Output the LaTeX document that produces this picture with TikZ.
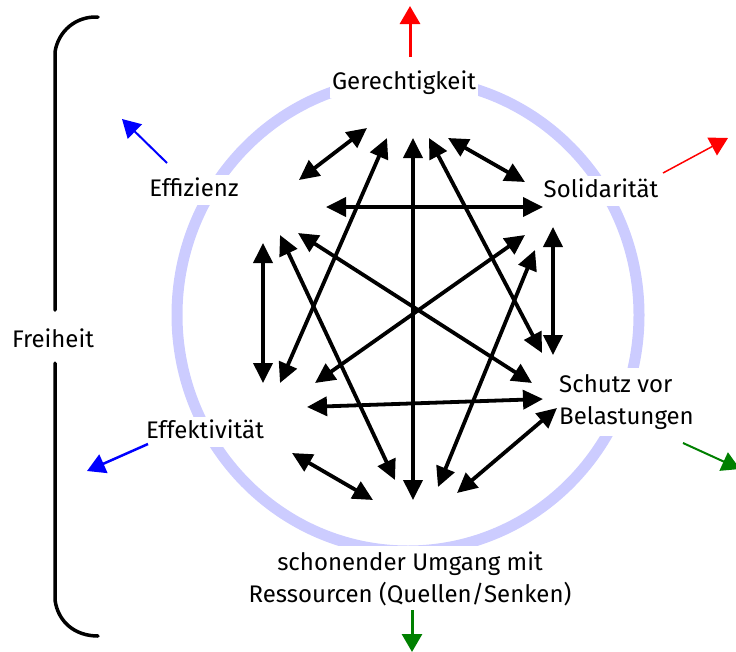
\documentclass[tikz,border=0pt]{standalone}
\usepackage{fontspec}
\setmainfont{Fira Sans}
\usetikzlibrary{arrows.meta}
\definecolor{ringblue}{RGB}{204,204,255}
\definecolor{arrgreen}{RGB}{0,128,0}
\begin{document}
\begin{tikzpicture}[x=1pt,y=-1pt,
  dbl/.style={line width=3.8pt,{Triangle[length=20pt,width=19pt]}-{Triangle[length=20pt,width=19pt]}},
  outarr/.style={line width=#1,-{Triangle[length=18pt,width=20pt]}},
  lbl/.style={fill=white,inner xsep=2pt,inner ysep=4pt,text height=17pt,text depth=5pt,
    font=\fontsize{24}{32}\selectfont},
  lblm/.style={fill=white,inner xsep=2pt,inner ysep=6pt,
    font=\fontsize{24}{32}\selectfont},
  brace/.style={line width=3.5pt,line cap=round,line join=round}]
\useasboundingbox (0,0) rectangle (736,651);
% ring
\draw[ringblue,line width=11pt] (408,315) ellipse [x radius=231, y radius=236];
% labels
\node[lbl] (ger) at (404,83) {Gerechtigkeit};
\node[lbl] (sol) at (601,191) {Solidarität};
\node[lblm,align=left,anchor=west] (sch) at (557,402) {Schutz vor\\Belastungen};
\node[lblm,align=center] (res) at (410,579) {schonender Umgang mit\\Ressourcen (Quellen/Senken)};
\node[lbl] (efk) at (205,432) {Effektivität};
\node[lbl] (efz) at (194,190) {Effizienz};
\node[font=\fontsize{24}{32}\selectfont] (frei) at (53,338) {Freiheit};
% brace
\coordinate (bt) at (98,17);
\coordinate (bt2) at (55,310);
\coordinate (bb2) at (55,363);
\coordinate (bb) at (98,636);
\draw[brace] (bt) .. controls (75,16) and (58,32) .. (55,52) -- (bt2);
\draw[brace] (bb2) -- (55,600) .. controls (58,622) and (75,636) .. (bb);
% endpoints of inner arrows
\coordinate (a1) at (299,180); \coordinate (b1) at (367,128);
\coordinate (a2) at (387,138); \coordinate (b2) at (280,383);
\coordinate (a3) at (413,138); \coordinate (b3) at (413,500);
\coordinate (a4) at (429,138); \coordinate (b4) at (542,353);
\coordinate (a5) at (448,138); \coordinate (b5) at (525,182);
\coordinate (a6) at (326,207); \coordinate (b6) at (543,207);
\coordinate (a7) at (553,227); \coordinate (b7) at (553,355);
\coordinate (a8) at (525,235); \coordinate (b8) at (315,383);
\coordinate (a9) at (535,250); \coordinate (b9) at (438,487);
\coordinate (a10) at (298,233); \coordinate (b10) at (532,383);
\coordinate (a11) at (280,235); \coordinate (b11) at (395,480);
\coordinate (a12) at (263,243); \coordinate (b12) at (263,383);
\coordinate (a13) at (307,407); \coordinate (b13) at (543,399);
\coordinate (a14) at (557,408); \coordinate (b14) at (457,493);
\coordinate (a15) at (292,453); \coordinate (b15) at (373,500);
\foreach \i in {1,...,15} {\draw[dbl] (a\i) -- (b\i);}
% outward arrows
\coordinate (r1s) at (410,57); \coordinate (r1e) at (410,6);
\coordinate (r2s) at (663,173); \coordinate (r2e) at (728,138);
\coordinate (u1s) at (167,163); \coordinate (u1e) at (122,119);
\coordinate (u2s) at (148,444); \coordinate (u2e) at (87,471);
\coordinate (g1s) at (683,443); \coordinate (g1e) at (740,469);
\coordinate (g2s) at (412,610); \coordinate (g2e) at (412,652);
\draw[outarr=3pt,red] (r1s) -- (r1e);
\draw[outarr=1.5pt,red] (r2s) -- (r2e);
\draw[outarr=2pt,blue] (u1s) -- (u1e);
\draw[outarr=2.5pt,blue] (u2s) -- (u2e);
\draw[outarr=2pt,arrgreen] (g1s) -- (g1e);
\draw[outarr=3pt,arrgreen] (g2s) -- (g2e);
\end{tikzpicture}
\end{document}
